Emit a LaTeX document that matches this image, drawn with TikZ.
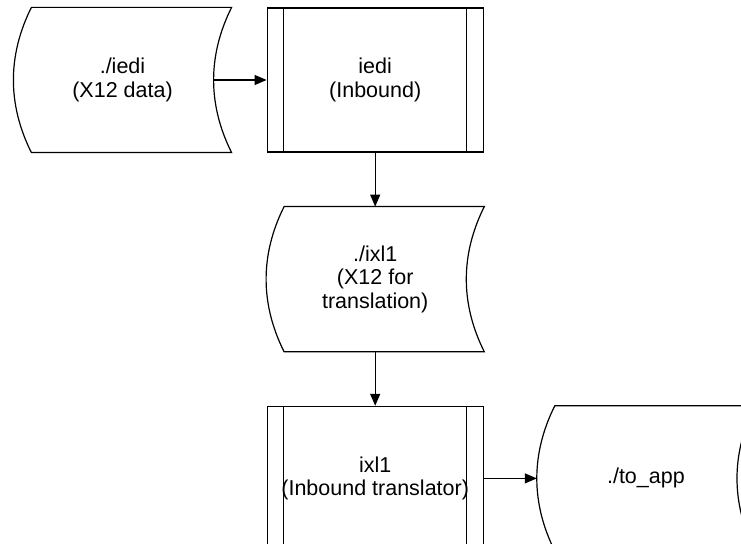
\documentclass[tikz,border=0pt]{standalone}
\usepackage{fontspec}
\setmainfont{Liberation Sans}
\usetikzlibrary{arrows.meta,positioning}

\begin{document}
\begin{tikzpicture}[
    line width=0.6pt,
    node distance=27pt,
    every node/.style={font=\fontsize{10.75pt}{11.75pt}\selectfont},
    store/.style={rectangle, minimum width=108.5pt, minimum height=72pt, align=center, inner sep=0pt},
    proc/.style={rectangle, draw, minimum width=108pt, minimum height=72pt, align=center, inner sep=0pt},
    arrow/.style={-{Triangle[length=6pt, width=5pt]}}
]
    \clip (0,0) rectangle (370.5pt,-272pt);

    \node[store] (iedidata) at (61.25pt,-40pt) {./iedi\\(X12 data)};
    \node[proc, right=17.5pt of iedidata] (iedi) {iedi\\(Inbound)};
    \node[store, below=of iedi] (ixldata) {./ixl1\\(X12 for\\translation)};
    \node[proc, below=of ixldata] (ixl) {ixl1\\(Inbound translator)};
    \node[store, right=26.5pt of ixl] (appdata) {./to\_app};

    % stored data outlines
    \foreach \s in {iedidata, ixldata, appdata}
        \draw ([xshift=9pt]\s.north west) -- (\s.north east)
            .. controls +(-12pt,-24pt) and +(-12pt,24pt) .. (\s.south east)
            -- ([xshift=9pt]\s.south west)
            .. controls +(-12pt,24pt) and +(-12pt,-24pt) .. ([xshift=9pt]\s.north west) -- cycle;

    % side bars of the processes
    \foreach \p in {iedi, ixl} {
        \draw ([xshift=8.5pt]\p.north west) -- ([xshift=8.5pt]\p.south west);
        \draw ([xshift=-8.5pt]\p.north east) -- ([xshift=-8.5pt]\p.south east);
    }

    \draw[arrow] ([xshift=-9pt]iedidata.east) -- (iedi);
    \draw[arrow] (iedi) -- (ixldata);
    \draw[arrow] (ixldata) -- (ixl);
    \draw[arrow] (ixl) -- (appdata);
\end{tikzpicture}
\end{document}
